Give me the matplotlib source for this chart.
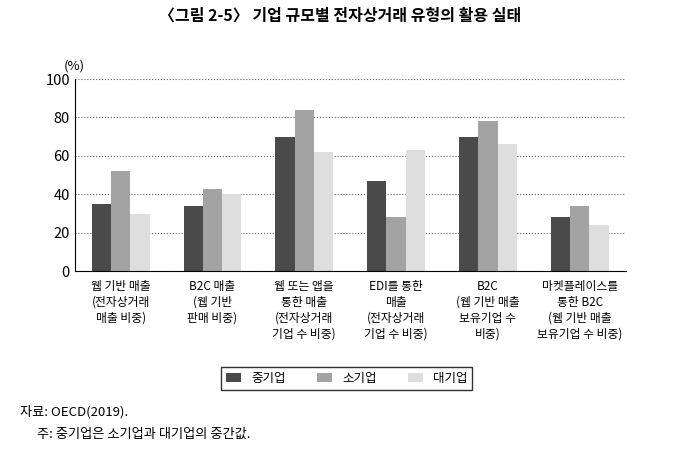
import matplotlib
matplotlib.use("Agg")
from matplotlib import pyplot as plt
import numpy as np

plt.rcParams['font.family'] = ['Noto Sans CJK KR', 'Noto Sans CJK JP', 'Noto Sans CJK SC', 'DejaVu Sans']

categories = ['웹 기반 매출\n(전자상거래\n매출 비중)', 'B2C 매출\n(웹 기반\n판매 비중)',
              '웹 또는 앱을\n통한 매출\n(전자상거래\n기업 수 비중)', 'EDI를 통한\n매출\n(전자상거래\n기업 수 비중)',
              'B2C\n(웹 기반 매출\n보유기업 수\n비중)', '마켓플레이스를\n통한 B2C\n(웹 기반 매출\n보유기업 수 비중)']
series_names = ['중기업', '소기업', '대기업']
medium = [35, 34, 70, 47, 70, 28]
small = [52, 43, 84, 28, 78, 34]
large = [30, 40, 62, 63, 66, 24]
colors = ['#4a4a4a', '#a3a3a3', '#dedede']

fig = plt.figure(figsize=(6.8, 4.49), dpi=100)
ax = fig.add_axes([0.11, 0.396, 0.81, 0.428])

x = np.arange(len(categories))
w = 0.21
for i, (vals, name) in enumerate(zip([medium, small, large], series_names)):
    ax.bar(x + (i - 1) * w, vals, w, color=colors[i], label=name, zorder=2)

ax.set_ylim(0, 100)
ax.set_xlim(-0.5, len(categories) - 0.5)
ax.set_yticks(range(0, 101, 20))
ax.yaxis.grid(True, linestyle=':', color='#666666', linewidth=0.8, zorder=0)
ax.set_xticks(x)
ax.set_xticklabels(categories, fontsize=8.5, linespacing=1.3)
ax.tick_params(axis='x', length=0, pad=6)
ax.tick_params(axis='y', labelsize=10.5, length=0)
for s in ['top', 'right']:
    ax.spines[s].set_visible(False)
ax.text(-0.5, 105, '(%)', fontsize=9.5, ha='center')

fig.text(0.5, 0.955, '〈그림 2-5〉 기업 규모별 전자상거래 유형의 활용 실태', ha='center', fontsize=11.5, fontweight='bold')
fig.legend(loc='center', bbox_to_anchor=(0.51, 0.158), ncol=3, frameon=True, fancybox=False,
           edgecolor='black', fontsize=9, handlelength=1.2, columnspacing=2.5)
fig.text(0.03, 0.075, '자료: OECD(2019).', fontsize=9.5)
fig.text(0.055, 0.025, '주: 중기업은 소기업과 대기업의 중간값.', fontsize=9.5)

fig.savefig('out.png', dpi=100)
